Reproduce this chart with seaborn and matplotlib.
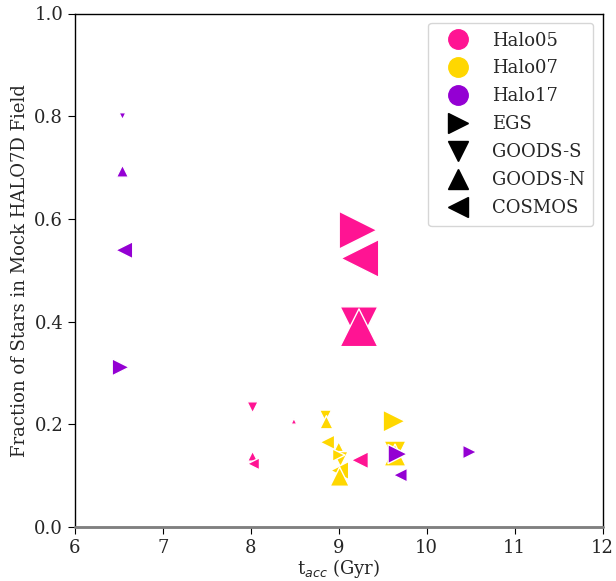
import matplotlib
matplotlib.use("Agg")
import matplotlib.pyplot as plt
from matplotlib.lines import Line2D
import seaborn as sns
import pandas as pd

# ---- data ----
halo = (["Halo05"] * 9 + ["Halo07"] * 11 + ["Halo17"] * 7)
field = [
    # Halo05
    "EGS", "COSMOS", "GOODS-S", "GOODS-N", "GOODS-S", "GOODS-N", "GOODS-N", "COSMOS", "COSMOS",
    # Halo07
    "GOODS-S", "GOODS-N", "COSMOS", "GOODS-N", "GOODS-S", "COSMOS", "GOODS-N", "EGS", "GOODS-S", "GOODS-N", "EGS",
    # Halo17
    "GOODS-S", "GOODS-N", "COSMOS", "EGS", "EGS", "COSMOS", "EGS",
]
t_acc = [
    9.22, 9.24, 9.23, 9.23, 8.02, 8.49, 8.02, 8.03, 9.24,
    8.85, 8.86, 8.87, 9.00, 9.02, 9.01, 9.01, 9.63, 9.64, 9.64, 9.00,
    6.54, 6.54, 6.56, 6.52, 10.49, 9.70, 9.67,
]
fraction = [
    0.578, 0.523, 0.392, 0.388, 0.233, 0.206, 0.138, 0.123, 0.130,
    0.216, 0.204, 0.165, 0.152, 0.132, 0.110, 0.098, 0.206, 0.146, 0.140, 0.140,
    0.800, 0.693, 0.539, 0.311, 0.146, 0.101, 0.142,
]
msize = [
    740, 740, 740, 740, 64, 18, 52, 75, 150,
    75, 90, 110, 110, 120, 170, 190, 250, 250, 250, 80,
    25, 75, 150, 150, 100, 100, 190,
]

halo_names = ["Halo05", "Halo07", "Halo17"]
halo_colors = ["#FF1493", "#FFD700", "#9400D3"]
field_names = ["EGS", "GOODS-S", "GOODS-N", "COSMOS"]
field_markers = [">", "v", "^", "<"]

df = pd.DataFrame({"halo": halo, "field": field, "t_acc": t_acc,
                   "fraction": fraction, "msize": msize})

sns.set_style("ticks")
plt.rcParams["font.family"] = ["DejaVu Serif"]
plt.rcParams["font.size"] = 13

fig = plt.figure(figsize=(6.16, 5.81), dpi=100)
ax = fig.add_axes([75 / 616, 1 - 527 / 581, (602.5 - 75) / 616, (527 - 13.5) / 581])

sns.scatterplot(
    data=df, x="t_acc", y="fraction", hue="halo", style="field", size="msize",
    hue_order=halo_names, palette=dict(zip(halo_names, halo_colors)),
    style_order=field_names, markers=dict(zip(field_names, field_markers)),
    sizes=(min(msize), max(msize)), size_norm=(min(msize), max(msize)),
    edgecolor="white", linewidth=1.0, legend=False, ax=ax, zorder=3,
)

ax.axhline(0, color="gray", lw=2, zorder=4, clip_on=False)
ax.set_xlim(6, 12)
ax.set_ylim(0, 1.0)
ax.set_xticks(range(6, 13))
ax.set_yticks([0.0, 0.2, 0.4, 0.6, 0.8, 1.0])
ax.set_xlabel("t$_{acc}$ (Gyr)", fontsize=13, labelpad=0)
ax.set_ylabel("Fraction of Stars in Mock HALO7D Field", fontsize=13)
ax.tick_params(labelsize=13, direction="out", length=5, color="black")
for sp in ax.spines.values():
    sp.set_color("black")
    sp.set_linewidth(1.0)

handles = []
for n, c in zip(halo_names, halo_colors):
    handles.append(Line2D([], [], marker="o", color=c, ls="none", markersize=14, label=n))
for n, m in zip(field_names, field_markers):
    handles.append(Line2D([], [], marker=m, color="black", ls="none", markersize=14, label=n))
ax.legend(handles=handles, loc="upper right", fontsize=13, frameon=True,
          borderpad=0.5, labelspacing=0.55, handlelength=2.3, handletextpad=0.7)

fig.savefig("out.png", dpi=100)
